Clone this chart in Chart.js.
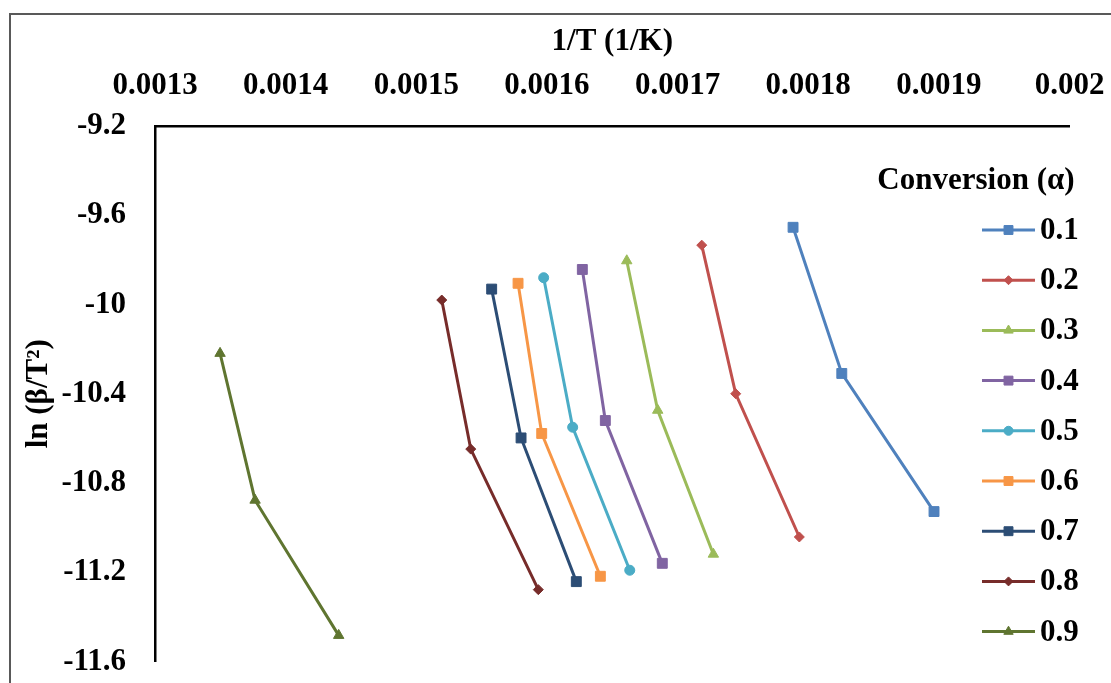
<!DOCTYPE html>
<html><head><meta charset="utf-8">
<script src="https://cdn.jsdelivr.net/npm/chart.js@4.4.0/dist/chart.umd.min.js"></script>
<style>html,body{margin:0;padding:0;background:#fff;overflow:hidden}canvas{display:block}</style>
</head><body>
<canvas id="c" width="1111" height="683"></canvas>
<script>
// ---- data ----
const conversions = ['0.1', '0.2', '0.3', '0.4', '0.5', '0.6', '0.7', '0.8', '0.9'];
const invT_a01 = [0.0017884, 0.0018257, 0.0018963];
const lnBT_a01 = [-9.654, -10.309, -10.928];
const invT_a02 = [0.0017185, 0.0017445, 0.0017932];
const lnBT_a02 = [-9.734, -10.400, -11.042];
const invT_a03 = [0.0016611, 0.0016848, 0.0017274];
const lnBT_a03 = [-9.804, -10.474, -11.119];
const invT_a04 = [0.0016271, 0.0016447, 0.0016883];
const lnBT_a04 = [-9.843, -10.520, -11.160];
const invT_a05 = [0.0015975, 0.0016197, 0.0016634];
const lnBT_a05 = [-9.880, -10.550, -11.191];
const invT_a06 = [0.0015779, 0.0015960, 0.0016409];
const lnBT_a06 = [-9.905, -10.578, -11.218];
const invT_a07 = [0.0015577, 0.0015802, 0.0016225];
const lnBT_a07 = [-9.931, -10.598, -11.242];
const invT_a08 = [0.0015195, 0.0015417, 0.0015934];
const lnBT_a08 = [-9.980, -10.648, -11.278];
const invT_a09 = [0.0013498, 0.0013766, 0.0014406];
const lnBT_a09 = [-10.219, -10.877, -11.483];

const xTickValues = [0.0013, 0.0014, 0.0015, 0.0016, 0.0017, 0.0018, 0.0019, 0.002];
const yTickValues = [-9.2, -9.6, -10, -10.4, -10.8, -11.2, -11.6];
const xTitle = '1/T (1/K)';
const yTitle = 'ln (β/T²)';
const legendTitle = 'Conversion (α)';

// ---- styles ----
const seriesColors = ['#4F81BD', '#C0504D', '#9BBB59', '#8064A2', '#4BACC6', '#F79646', '#2C4D75', '#772C2A', '#5F7530'];
const seriesMarkers = ['rect', 'rectRot', 'triangle', 'rect', 'circle', 'rect', 'rect', 'rectRot', 'triangle'];
const markerRadius = { rect: 7, rectRot: 5, triangle: 6, circle: 5 };

const xs = [invT_a01, invT_a02, invT_a03, invT_a04, invT_a05, invT_a06, invT_a07, invT_a08, invT_a09];
const ys = [lnBT_a01, lnBT_a02, lnBT_a03, lnBT_a04, lnBT_a05, lnBT_a06, lnBT_a07, lnBT_a08, lnBT_a09];

const FONT_FAMILY = '"Liberation Serif", "Times New Roman", serif';
const FONT_SIZE = 31;
const FONT_CSS = 'bold ' + FONT_SIZE + 'px ' + FONT_FAMILY;

const datasets = conversions.map((c, i) => ({
  label: c,
  data: xs[i].map((x, j) => ({ x: x, y: ys[i][j] })),
  borderColor: seriesColors[i],
  backgroundColor: seriesColors[i],
  borderWidth: 3,
  pointStyle: seriesMarkers[i],
  pointRadius: markerRadius[seriesMarkers[i]],
  pointHoverRadius: markerRadius[seriesMarkers[i]],
  pointBorderWidth: 1,
  showLine: true,
  tension: 0,
  clip: false
}));

const framePlugin = {
  id: 'frame',
  beforeDraw(chart) {
    const ctx = chart.ctx;
    ctx.save();
    ctx.fillStyle = '#fff';
    ctx.fillRect(0, 0, chart.width, chart.height);
    ctx.strokeStyle = '#595959';
    ctx.lineWidth = 2;
    ctx.strokeRect(10, 14, 1300, 900);
    ctx.restore();
  }
};

const legendPlugin = {
  id: 'customLegend',
  afterDraw(chart) {
    const ctx = chart.ctx;
    ctx.save();
    ctx.font = FONT_CSS;
    ctx.fillStyle = '#000';
    ctx.textAlign = 'center';
    ctx.textBaseline = 'middle';
    ctx.fillText(legendTitle, 976, 181);
    chart.data.datasets.forEach((ds, i) => {
      const y = 230 + i * 50.2;
      ctx.strokeStyle = ds.borderColor;
      ctx.lineWidth = 3;
      ctx.beginPath();
      ctx.moveTo(982, y);
      ctx.lineTo(1035, y);
      ctx.stroke();
      ctx.fillStyle = ds.backgroundColor;
      ctx.lineWidth = 1;
      if (Chart.helpers && Chart.helpers.drawPoint) {
        Chart.helpers.drawPoint(ctx, { pointStyle: ds.pointStyle, radius: ds.pointRadius * 0.9, rotation: 0, borderWidth: 1 }, 1008.5, y);
      } else {
        ctx.fillRect(1004, y - 4.5, 9, 9);
      }
      ctx.fillStyle = '#000';
      ctx.textAlign = 'left';
      ctx.fillText(ds.label, 1040, y + 1);
    });
    ctx.restore();
  }
};

const fmt = (v, d) => String(parseFloat(Number(v).toFixed(d)));
const zeroPad = s => { s.paddingLeft = 0; s.paddingRight = 0; s.paddingTop = 0; s.paddingBottom = 0; };

new Chart(document.getElementById('c'), {
  type: 'scatter',
  data: { datasets: datasets },
  plugins: [framePlugin, legendPlugin],
  options: {
    responsive: false,
    devicePixelRatio: 1,
    animation: false,
    events: [],
    layout: { padding: { left: 0, top: 0, right: 41.5, bottom: 21.5 } },
    plugins: { legend: { display: false }, tooltip: { enabled: false } },
    scales: {
      x: {
        type: 'linear',
        position: 'top',
        min: 0.0013,
        max: 0.002,
        afterBuildTicks: s => { s.ticks = xTickValues.map(v => ({ value: v })); },
        afterFit: s => { s.height = 126; zeroPad(s); },
        grid: { display: false, drawTicks: false },
        border: { display: true, color: '#000', width: 2.5 },
        ticks: {
          color: '#000',
          font: { family: FONT_FAMILY, size: FONT_SIZE, weight: 'bold' },
          padding: 21,
          maxRotation: 0,
          autoSkip: false,
          callback: v => fmt(v, 4)
        },
        title: {
          display: true,
          text: xTitle,
          color: '#000',
          font: { family: FONT_FAMILY, size: FONT_SIZE, weight: 'bold' },
          padding: { top: 23, bottom: 0 }
        }
      },
      y: {
        type: 'linear',
        position: 'left',
        min: -11.6,
        max: -9.2,
        afterBuildTicks: s => { s.ticks = yTickValues.map(v => ({ value: v })); },
        afterFit: s => { s.width = 155; zeroPad(s); },
        grid: { display: false, drawTicks: false },
        border: { display: true, color: '#000', width: 2.5 },
        ticks: {
          color: '#000',
          font: { family: FONT_FAMILY, size: FONT_SIZE, weight: 'bold' },
          padding: 29,
          autoSkip: false,
          callback: v => fmt(v, 1)
        },
        title: {
          display: true,
          text: yTitle,
          color: '#000',
          font: { family: FONT_FAMILY, size: FONT_SIZE, weight: 'bold' },
          padding: { top: 20, bottom: 0 }
        }
      }
    }
  }
});
</script>
</body></html>
